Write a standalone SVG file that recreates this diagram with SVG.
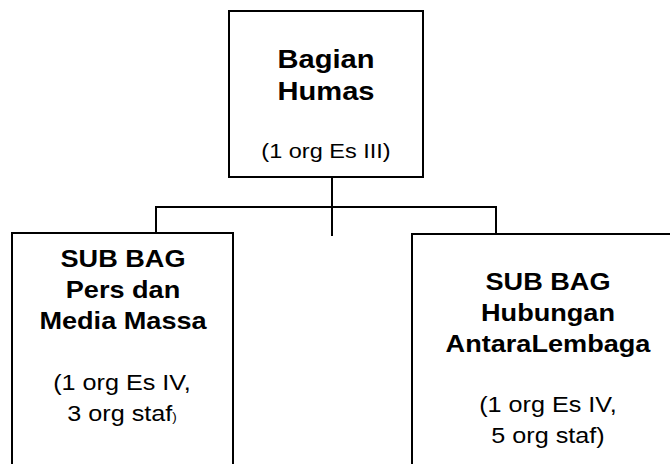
<svg xmlns="http://www.w3.org/2000/svg" width="670" height="464" viewBox="0 0 670 464">
<style>
.box{fill:#fff;stroke:#000;stroke-width:2}
.ln{stroke:#000;stroke-width:2;fill:none}
.b{font-family:"Liberation Sans",Arial,sans-serif;font-weight:bold;text-anchor:middle;fill:#000}
.r{font-family:"Liberation Sans",Arial,sans-serif;text-anchor:middle;fill:#000}
</style>
<rect width="670" height="464" fill="#fff"/>
<g id="connectors">
<line class="ln" x1="332" y1="177" x2="332" y2="236"/>
<line class="ln" x1="156" y1="207" x2="497" y2="207"/>
<line class="ln" x1="156" y1="206" x2="156" y2="233"/>
<line class="ln" x1="496" y1="206" x2="496" y2="234"/>
</g>
<g id="bagian-humas">
<rect class="box" x="229" y="11" width="194" height="166"/>
<text class="b" font-size="26" transform="translate(326,68) scale(1.12,1)">Bagian</text>
<text class="b" font-size="26" transform="translate(326,100) scale(1.12,1)">Humas</text>
<text class="r" font-size="21" transform="translate(326,158) scale(1.12,1)">(1 org Es III)</text>
</g>
<g id="subbag-pers">
<rect class="box" x="12" y="233" width="221" height="300"/>
<text class="b" font-size="24" transform="translate(123,267) scale(1.13,1)">SUB BAG</text>
<text class="b" font-size="24" transform="translate(123,298) scale(1.13,1)">Pers dan</text>
<text class="b" font-size="24" transform="translate(123,329) scale(1.13,1)">Media Massa</text>
<text class="r" font-size="22.5" transform="translate(122,390) scale(1.12,1)">(1 org Es IV,</text>
<text class="r" font-size="22.5" transform="translate(122,421) scale(1.12,1)">3 org staf<tspan font-size="12">)</tspan></text>
</g>
<g id="subbag-hubungan">
<rect class="box" x="412" y="234" width="300" height="300"/>
<text class="b" font-size="24" transform="translate(548,290) scale(1.13,1)">SUB BAG</text>
<text class="b" font-size="24" transform="translate(548,321) scale(1.13,1)">Hubungan</text>
<text class="b" font-size="24" transform="translate(548,352) scale(1.13,1)">AntaraLembaga</text>
<text class="r" font-size="22.5" transform="translate(548,412) scale(1.12,1)">(1 org Es IV,</text>
<text class="r" font-size="22.5" transform="translate(548,443) scale(1.12,1)">5 org staf)</text>
</g>
</svg>
